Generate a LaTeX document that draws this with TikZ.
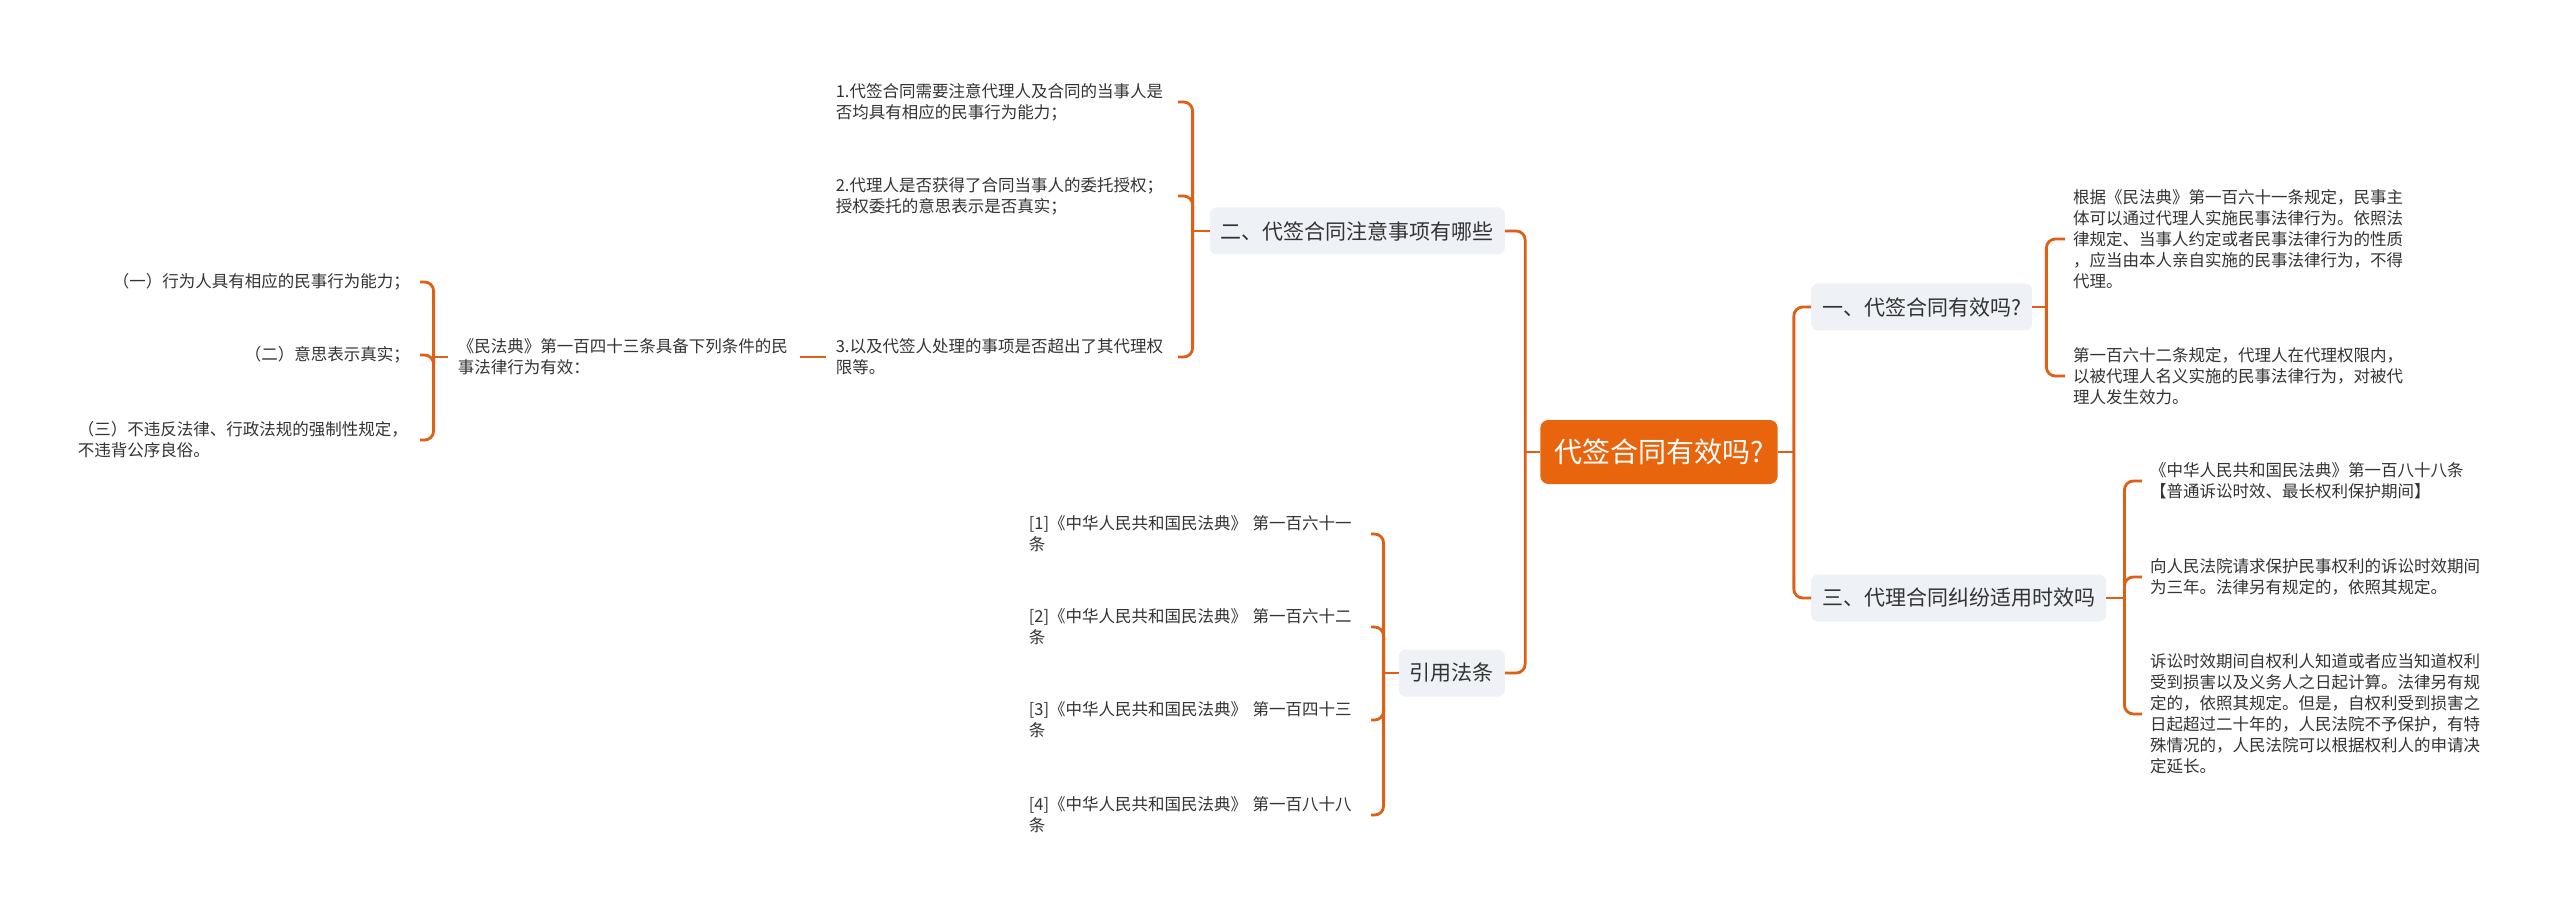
\documentclass[tikz,border=0pt]{standalone}
\usepackage{fontspec}
\setmainfont{Noto Sans CJK SC}
\usetikzlibrary{calc}
\definecolor{org}{RGB}{232,101,14}
\definecolor{lineorg}{RGB}{222,96,22}
\definecolor{boxbg}{RGB}{238,241,245}
\definecolor{txt}{RGB}{51,51,51}
\tikzset{
  conn/.style={draw=lineorg, line width=2.8pt, rounded corners=9pt},
  topbox/.style={fill=boxbg, rounded corners=7pt, text=txt, font=\fontsize{21}{26}\selectfont, inner xsep=11pt, inner ysep=0pt, minimum height=47pt},
  rootbox/.style={fill=org, rounded corners=8pt, text=white, font=\fontsize{28}{34}\selectfont, inner xsep=14pt, inner ysep=0pt, minimum height=64pt},
  leafbase/.style={text=txt, font=\fontsize{16.5}{21}\selectfont, align=left, inner ysep=0pt},
  leafL/.style={leafbase, inner xsep=10pt, anchor=east},
  leafR/.style={leafbase, inner xsep=8pt, anchor=west},
  wide/.style={text width=332pt},
}
\begin{document}
\begin{tikzpicture}[x=1pt,y=-1pt]
\fill[white] (0,0) rectangle (2560,917);
\useasboundingbox (0,0) rectangle (2560,917);

% root and main branches
\node[rootbox] (root) at (1659,452) {代签合同有效吗?};
\node[topbox, anchor=west] (n1) at (1811,307) {一、代签合同有效吗?};
\node[topbox, anchor=west] (n3) at (1811,598) {三、代理合同纠纷适用时效吗};
\node[topbox, anchor=east] (n2) at (1505,231) {二、代签合同注意事项有哪些};
\node[topbox, anchor=east] (n4) at (1505,673) {引用法条};

% leaves of n1
\node[leafR, wide] (c11) at (2065,239) {根据《民法典》第一百六十一条规定，民事主\\体可以通过代理人实施民事法律行为。依照法\\律规定、当事人约定或者民事法律行为的性质\\，应当由本人亲自实施的民事法律行为，不得\\代理。};
\node[leafR, wide] (c12) at (2065,376) {第一百六十二条规定，代理人在代理权限内，\\以被代理人名义实施的民事法律行为，对被代\\理人发生效力。};

% leaves of n3
\node[leafR, wide] (c31) at (2142,481) {《中华人民共和国民法典》第一百八十八条\\【普通诉讼时效、最长权利保护期间】};
\node[leafR, wide] (c32) at (2142,577) {向人民法院请求保护民事权利的诉讼时效期间\\为三年。法律另有规定的，依照其规定。};
\node[leafR, wide] (c33) at (2142,714) {诉讼时效期间自权利人知道或者应当知道权利\\受到损害以及义务人之日起计算。法律另有规\\定的，依照其规定。但是，自权利受到损害之\\日起超过二十年的，人民法院不予保护，有特\\殊情况的，人民法院可以根据权利人的申请决\\定延长。};

% leaves of n2
\node[leafL, wide] (c21) at (1178,102) {1.代签合同需要注意代理人及合同的当事人是\\否均具有相应的民事行为能力；};
\node[leafL, wide] (c22) at (1178,196) {2.代理人是否获得了合同当事人的委托授权；\\授权委托的意思表示是否真实；};
\node[leafL, wide] (c23) at (1178,357) {3.以及代签人处理的事项是否超出了其代理权\\限等。};
\node[leafL, wide] (c231) at (800,357) {《民法典》第一百四十三条具备下列条件的民\\事法律行为有效：};
\node[leafL] (cA) at (420,282) {（一）行为人具有相应的民事行为能力；};
\node[leafL] (cB) at (420,355) {（二）意思表示真实；};
\node[leafL, wide] (cC) at (420,440) {（三）不违反法律、行政法规的强制性规定，\\不违背公序良俗。};

% leaves of n4
\node[leafL, wide] (r1) at (1371,534) {[1]《中华人民共和国民法典》 第一百六十一\\条};
\node[leafL, wide] (r2) at (1371,627) {[2]《中华人民共和国民法典》 第一百六十二\\条};
\node[leafL, wide] (r3) at (1371,720) {[3]《中华人民共和国民法典》 第一百四十三\\条};
\node[leafL, wide] (r4) at (1371,815) {[4]《中华人民共和国民法典》 第一百八十八\\条};

% root connectors
\draw[conn] (root.west) -- ++(-15,0) coordinate (rl);
\draw[conn] (rl) |- (n2.east);
\draw[conn] (rl) |- (n4.east);
\draw[conn] (root.east) -- ++(16,0) coordinate (rr);
\draw[conn] (rr) |- (n1.west);
\draw[conn] (rr) |- (n3.west);

% n1 bracket
\draw[conn] (n1.east) -- ++(14,0) coordinate (b1);
\draw[conn] (b1) |- (c11.west);
\draw[conn] (b1) |- (c12.west);

% n3 bracket
\draw[conn] (n3.east) -- ++(18,0) coordinate (b3);
\draw[conn] (b3) |- (c31.west);
\draw[conn] (b3) |- (c32.west);
\draw[conn] (b3) |- (c33.west);

% n2 bracket
\draw[conn] (n2.west) -- ++(-17,0) coordinate (b2);
\draw[conn] (b2) |- (c21.east);
\draw[conn] (b2) |- (c22.east);
\draw[conn] (b2) |- (c23.east);

% c23 -> c231
\draw[conn] (c23.west) -- (c231.east);

% c231 bracket
\draw[conn] (c231.west) -- ++(-14,0) coordinate (b231);
\draw[conn] (b231) |- (cA.east);
\draw[conn] (b231) |- (cB.east);
\draw[conn] (b231) |- (cC.east);

% n4 bracket
\draw[conn] (n4.west) -- ++(-15,0) coordinate (b4);
\draw[conn] (b4) |- (r1.east);
\draw[conn] (b4) |- (r2.east);
\draw[conn] (b4) |- (r3.east);
\draw[conn] (b4) |- (r4.east);
\end{tikzpicture}
\end{document}
